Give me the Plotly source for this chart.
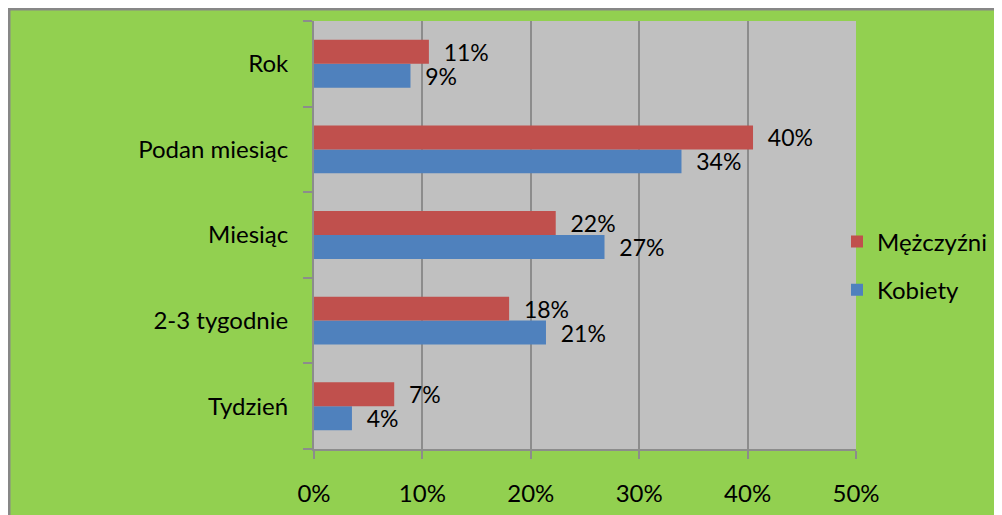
import plotly.graph_objects as go

categories = ["Tydzień", "2-3 tygodnie", "Miesiąc", "Podan miesiąc", "Rok"]
kobiety = [0.035, 0.214, 0.268, 0.339, 0.089]
mezczyzni = [0.074, 0.180, 0.223, 0.405, 0.106]
x_ticks = [0, 0.1, 0.2, 0.3, 0.4, 0.5]
x_tick_labels = ["0%", "10%", "20%", "30%", "40%", "50%"]

FONT = "Lato, 'Open Sans', sans-serif"
FS = 24
FS_LBL = 23

ML, MR, MT, MB = 306, 154, 13, 74
PW = 1002 - ML - MR
PH = 515 - MT - MB

fig = go.Figure()
fig.add_trace(go.Bar(
    y=categories, x=kobiety, orientation="h", name="Kobiety",
    legendgroup="k", legendrank=2,
    marker=dict(color="#4F81BD", line=dict(width=0)),
    text=[f"  {round(v*100):d}%" for v in kobiety],
    textposition="outside", cliponaxis=False, constraintext="none",
    textfont=dict(family=FONT, size=FS_LBL, color="#000000"),
))
fig.add_trace(go.Bar(
    y=categories, x=mezczyzni, orientation="h", name="Mężczyźni",
    legendgroup="m", legendrank=1,
    marker=dict(color="#C0504D", line=dict(width=0)),
    text=[f"  {round(v*100):d}%" for v in mezczyzni],
    textposition="outside", cliponaxis=False, constraintext="none",
    textfont=dict(family=FONT, size=FS_LBL, color="#000000"),
))

fig.update_layout(
    width=1002, height=515,
    margin=dict(l=ML, r=MR, t=MT, b=MB, pad=0),
    paper_bgcolor="#92D050",
    plot_bgcolor="#C0C0C0",
    barmode="group", bargap=0.44, bargroupgap=0,
    font=dict(family=FONT, size=FS, color="#000000"),
    legend=dict(
        x=1 - 19 / PW, y=0.5 - 31 / PH, xanchor="left", yanchor="middle",
        traceorder="grouped", bgcolor="rgba(0,0,0,0)",
        font=dict(family=FONT, size=FS), itemwidth=30,
        tracegroupgap=14,
    ),
    xaxis=dict(
        range=[0, 0.5], tickvals=x_ticks, ticktext=x_tick_labels,
        showgrid=True, gridcolor="#8C8C8C", gridwidth=2,
        showline=True, linecolor="#8C8C8C", linewidth=2,
        ticks="outside", ticklen=8, tickcolor="#8C8C8C", tickwidth=2,
        ticklabelstandoff=14,
        zeroline=False, fixedrange=True, automargin=False,
    ),
    yaxis=dict(
        showline=True, linecolor="#8C8C8C", linewidth=2,
        ticks="outside", ticklen=9, tickcolor="#8C8C8C", tickwidth=2,
        tickson="boundaries", ticklabelstandoff=19,
        showgrid=False, zeroline=False, fixedrange=True, automargin=False,
    ),
    shapes=[dict(
        type="rect", xref="paper", yref="paper",
        x0=(-ML + 1) / PW, x1=(1002 - ML + 20) / PW,
        y0=-(MB + 20) / PH, y1=1 + (MT - 1) / PH,
        line=dict(color="#878787", width=3), fillcolor="rgba(0,0,0,0)",
        layer="above",
    )],
)

fig.write_html("out.html")
